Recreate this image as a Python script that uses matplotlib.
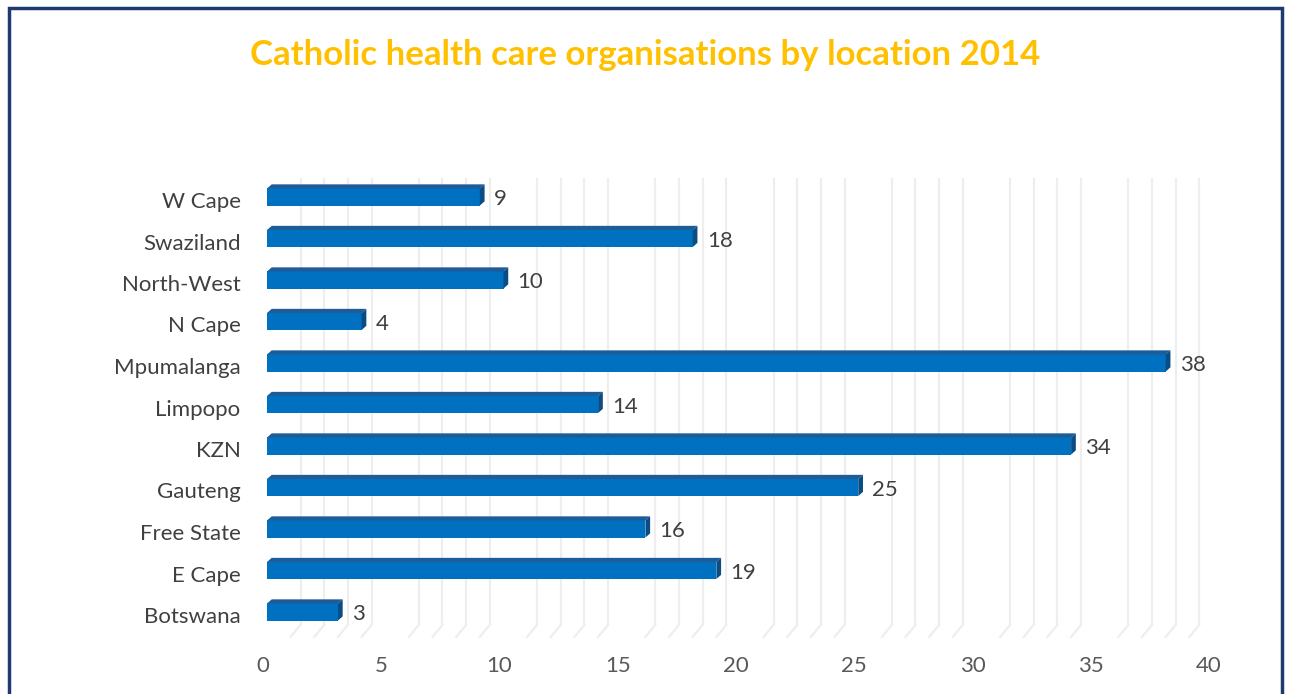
import matplotlib
matplotlib.use("Agg")
import matplotlib.pyplot as plt
import matplotlib.transforms as mtransforms
from matplotlib.patches import Polygon, Rectangle

# data (bottom to top, as drawn)
regions = ["Botswana", "E Cape", "Free State", "Gauteng", "KZN", "Limpopo",
           "Mpumalanga", "N Cape", "North-West", "Swaziland", "W Cape"]
counts = [3, 19, 16, 25, 34, 14, 38, 4, 10, 18, 9]
xticks = [0, 5, 10, 15, 20, 25, 30, 35, 40]

W, H = 1290, 694
fig = plt.figure(figsize=(W / 100, H / 100), dpi=100)
plt.rcParams['font.family'] = ['Lato', 'DejaVu Sans']

# axes placed in pixels
left, right = 267, 1213
top, bottom = 155.5, 653.5
ax = fig.add_axes([left / W, 1 - bottom / H, (right - left) / W, (bottom - top) / H])
ax.set_xlim(0, 40)
ax.set_ylim(-1, 11)
for s in ax.spines.values():
    s.set_visible(False)

# back-wall gridlines (minor units only) with floor diagonals
shift = 0.42
grid_col = "#EEEEEE"
for v in range(1, 40):
    if v % 5 == 0:
        continue
    ax.plot([v + shift, v + shift], [-0.31, 10.46], color=grid_col, lw=1.6,
            zorder=0, solid_capstyle="butt")
    ax.plot([v + shift, v], [-0.31, -0.6], color=grid_col, lw=1.6, zorder=0)

# 3D bars
h = 0.41
dx, dy = 0.2, 0.1
front = "#0070C0"
top_col = "#1D5C98"
side_col = "#0A4C84"
y = list(range(len(regions)))
ax.barh(y, counts, height=h, color=front, zorder=3, linewidth=0)
for yi, c in zip(y, counts):
    yt = yi + h / 2
    yb = yi - h / 2
    ax.add_patch(Polygon([(0, yt), (dx, yt + dy), (c + dx, yt + dy), (c, yt)],
                         closed=True, facecolor=top_col, edgecolor="none", zorder=3))
    ax.add_patch(Polygon([(c, yt), (c + dx, yt + dy), (c + dx, yb + dy), (c, yb)],
                         closed=True, facecolor=side_col, edgecolor="none", zorder=3))
    ax.text(c + 0.6, yi - 0.05, str(c), va="center", ha="left", fontsize=16,
            color="#404040", zorder=4)

ax.set_yticks(y)
ax.set_yticklabels(regions, fontsize=16, color="#404040")
ax.set_xticks(xticks)
ax.set_xticklabels([str(t) for t in xticks], fontsize=16, color="#595959")
ax.tick_params(axis="y", length=0, pad=19)
ax.tick_params(axis="x", length=0, pad=2)
down = mtransforms.ScaledTranslation(0, -3 / 100, fig.dpi_scale_trans)
for lab in ax.get_yticklabels():
    lab.set_transform(lab.get_transform() + down)
leftshift = mtransforms.ScaledTranslation(-4 / 100, 0, fig.dpi_scale_trans)
for lab in ax.get_xticklabels():
    lab.set_transform(lab.get_transform() + leftshift)

fig.text(645 / W, 1 - 55 / H, "Catholic health care organisations by location 2014",
         ha="center", va="center", fontsize=25, fontweight="bold", color="#FFC000")

# frame
fig.patches.append(Rectangle((9 / W, -0.1), (1282 - 9) / W, 1.1 - 8 / H,
                             transform=fig.transFigure, fill=False,
                             edgecolor="#1F3A6E", lw=2.5))

fig.savefig("out.png", dpi=100)
